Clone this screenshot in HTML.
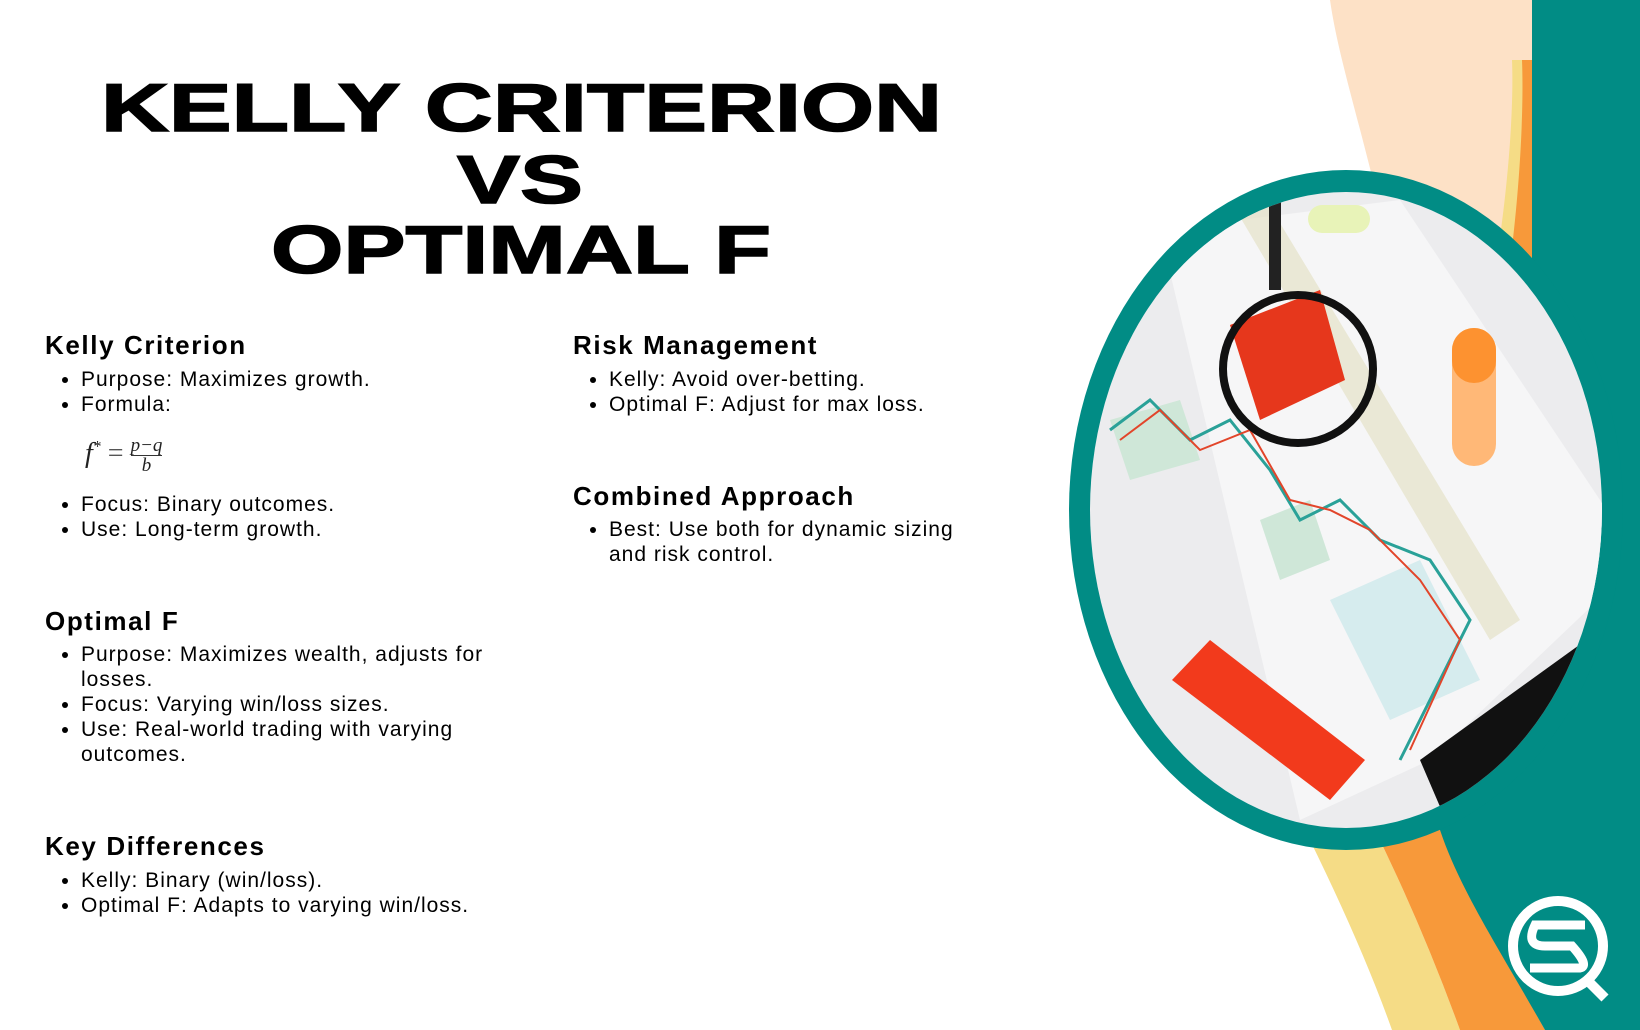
<!DOCTYPE html>
<html><head><meta charset="utf-8"><style>
html,body{margin:0;padding:0;background:#fff;}
#root{position:relative;width:1640px;height:1030px;overflow:hidden;background:#fff;font-family:"Liberation Sans",sans-serif;color:#000;}
.h{position:absolute;font-weight:bold;font-size:26px;line-height:30px;white-space:nowrap;letter-spacing:1.6px;}
ul{position:absolute;margin:0;padding:0 0 0 36px;font-size:21px;line-height:25px;letter-spacing:1px;}
li{margin:0;}
svg{position:absolute;left:0;top:0;}
</style></head><body>
<div id="root">
<svg width="1640" height="1030">
  <defs><clipPath id="ov"><ellipse cx="1346" cy="510" rx="256" ry="318"/></clipPath></defs>
  <path d="M1330,0 L1532,0 L1532,300 L1400,300 C1370,150 1340,70 1330,0Z" fill="#fde1c6"/>
  <path d="M1512,60 L1524,60 L1524,300 L1490,300 C1508,200 1514,110 1512,60Z" fill="#f5dc86"/>
  <path d="M1522,60 L1533,60 L1533,300 L1505,300 C1520,200 1524,110 1522,60Z" fill="#f7993a"/>
  <path d="M1300,820 Q1360,940 1392,1030 L1460,1030 Q1420,920 1370,820Z" fill="#f5dc86"/>
  <path d="M1370,820 Q1420,920 1460,1030 L1545,1030 Q1490,930 1445,830Z" fill="#f7993a"/>
  <path d="M1532,0 L1640,0 L1640,1030 L1545,1030 C1500,950 1460,890 1440,830 L1440,300 L1532,300Z" fill="#018c85"/>
  <ellipse cx="1346" cy="510" rx="277" ry="340" fill="#018c85"/>
  <g clip-path="url(#ov)">
    <rect x="1080" y="180" width="540" height="680" fill="#ececee"/>
    <polygon points="1160,230 1400,200 1640,560 1430,760 1300,820" fill="#f6f6f7"/>
    <polygon points="1420,760 1600,630 1640,700 1640,900 1480,900" fill="#111"/>
    <polygon points="1230,200 1260,190 1520,620 1490,640" fill="#e6e3c8" opacity="0.7"/>
    <polygon points="1110,420 1180,400 1200,460 1130,480" fill="#cfe7d8"/>
    <polygon points="1260,520 1310,500 1330,560 1280,580" fill="#cfe7d8"/>
    <polygon points="1330,600 1420,560 1480,680 1390,720" fill="#d6ecee"/>
    <polygon points="1172,680 1210,640 1365,760 1330,800" fill="#f23a1c"/>
    <polyline points="1110,430 1150,400 1190,440 1230,420 1270,470 1300,520 1340,500 1380,540 1430,560 1470,620 1400,760" fill="none" stroke="#2aa198" stroke-width="3"/>
    <polyline points="1120,440 1160,410 1200,450 1250,430 1290,500 1330,510 1370,530 1420,580 1460,640 1410,750" fill="none" stroke="#e2452a" stroke-width="2"/>
    <rect x="1452" y="328" width="44" height="138" rx="22" fill="#ffb877"/>
    <rect x="1452" y="328" width="44" height="55" rx="22" fill="#fd9230"/>
    <rect x="1308" y="205" width="62" height="28" rx="14" fill="#e8f3b8"/>
    <rect x="1269" y="195" width="12" height="95" fill="#222"/>
    <polygon points="1230,325 1320,290 1345,380 1260,420" fill="#e6371c"/>
    <ellipse cx="1298" cy="369" rx="75" ry="74" fill="none" stroke="#111" stroke-width="8"/>
  </g>
  <g>
    <circle cx="1558" cy="946" r="45" fill="none" stroke="#fff" stroke-width="10"/>
    <path d="M1585,925 L1535,925 Q1525,946 1545,946 L1572,946 Q1590,966 1580,968 L1530,968" fill="none" stroke="#fff" stroke-width="9"/>
    <line x1="1585" y1="978" x2="1605" y2="998" stroke="#fff" stroke-width="10"/>
  </g>
  <g font-family="Liberation Sans, sans-serif" font-weight="bold" font-size="68" fill="#000" stroke="#000" stroke-width="1.5">
    <text x="101" y="131" textLength="841" lengthAdjust="spacingAndGlyphs">KELLY CRITERION</text>
    <text x="457" y="203" textLength="126" lengthAdjust="spacingAndGlyphs">VS</text>
    <text x="271" y="273" textLength="500" lengthAdjust="spacingAndGlyphs">OPTIMAL F</text>
  </g>
</svg>

<div class="h" style="left:45px;top:330px">Kelly Criterion</div>
<ul style="left:45px;top:367px">
<li>Purpose: Maximizes growth.</li><li>Formula:</li></ul>
<div style="position:absolute;left:85px;top:436px;font-family:'Liberation Serif',serif;font-style:italic;font-size:28px;color:#222;">f<sup style="font-size:16px">*</sup> <span style="font-style:normal;color:#555">=</span> <span style="display:inline-block;vertical-align:middle;text-align:center;font-size:19px;line-height:19px;"><span style="display:block;border-bottom:1.5px solid #333">p−q</span><span style="display:block">b</span></span></div>
<ul style="left:45px;top:492px">
<li>Focus: Binary outcomes.</li><li>Use: Long-term growth.</li></ul>

<div class="h" style="left:45px;top:606px">Optimal F</div>
<ul style="left:45px;top:642px;width:425px">
<li>Purpose: Maximizes wealth, adjusts for losses.</li><li>Focus: Varying win/loss sizes.</li><li>Use: Real-world trading with varying outcomes.</li></ul>

<div class="h" style="left:45px;top:831px">Key Differences</div>
<ul style="left:45px;top:868px">
<li>Kelly: Binary (win/loss).</li><li>Optimal F: Adapts to varying win/loss.</li></ul>

<div class="h" style="left:573px;top:330px">Risk Management</div>
<ul style="left:573px;top:367px">
<li>Kelly: Avoid over-betting.</li><li>Optimal F: Adjust for max loss.</li></ul>

<div class="h" style="left:573px;top:481px">Combined Approach</div>
<ul style="left:573px;top:517px;width:365px">
<li>Best: Use both for dynamic sizing and risk control.</li></ul>
</div>
</body></html>
